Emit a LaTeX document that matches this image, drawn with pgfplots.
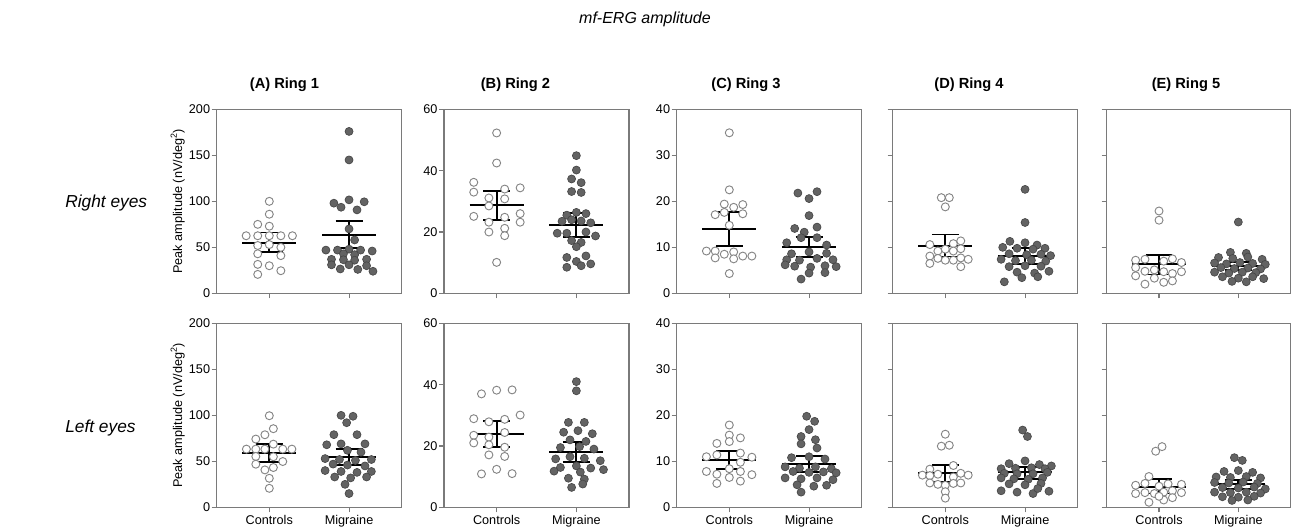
\documentclass[border=0pt]{standalone}
\usepackage{fontspec}
\setmainfont{Liberation Sans}
\usepackage{pgfplots}
\pgfplotsset{compat=1.18}
\definecolor{frame}{HTML}{7A7A7A}
\definecolor{ctrl}{HTML}{858585}
\definecolor{migf}{HTML}{636363}
\definecolor{migd}{HTML}{474747}
\pgfplotsset{
 panel/.style={
  scale only axis, width=138.75pt, height=138pt,
  xmin=-0.66, xmax=1.66, ymin=0,
  xtick={0,1},
  tick align=outside, xtick pos=bottom, ytick pos=left,
  major tick length=3.75pt,
  axis line style={frame, line width=0.8pt},
  every tick/.style={frame, line width=0.8pt},
  tick label style={font=\fontsize{9.5}{11}\selectfont},
  yticklabel style={inner sep=1pt},
  xticklabel style={inner sep=2pt},
  /pgf/number format/assume math mode=true,
  clip=false,
 },
 toprow/.style={xticklabels={}},
 botrow/.style={xticklabels={Controls,Migraine}},
 ylab/.style={ylabel={Peak amplitude (nV/deg\textsuperscript{2})}, ylabel style={font=\fontsize{9.5}{11}\selectfont, inner sep=2pt}},
 ctrlmark/.style={only marks, mark=*, mark size=3pt, mark options={draw=ctrl, fill=white, line width=0.7pt}},
 migmark/.style={only marks, mark=*, mark size=3pt, mark options={draw=migd, fill=migf, line width=0.5pt}},
 mline/.style={black, line width=1.4pt, forget plot},
}
\newcommand{\mciC}[3]{%
 \addplot[mline] coordinates {(-0.338,#1) (0.338,#1)};
 \addplot[mline] coordinates {(-0.169,#2) (0.169,#2)};
 \addplot[mline] coordinates {(-0.169,#3) (0.169,#3)};
 \addplot[mline] coordinates {(0,#2) (0,#3)};}
\newcommand{\mciM}[3]{%
 \addplot[mline] coordinates {(0.662,#1) (1.338,#1)};
 \addplot[mline] coordinates {(0.831,#2) (1.169,#2)};
 \addplot[mline] coordinates {(0.831,#3) (1.169,#3)};
 \addplot[mline] coordinates {(1,#2) (1,#3)};}
\begin{document}
\begin{tikzpicture}
\useasboundingbox (0,0) rectangle (968.25pt,-396.75pt);
\node[font=\fontsize{12}{14}\selectfont\itshape] at (483.75pt,-14.25pt) {mf-ERG amplitude};
\node[font=\fontsize{11}{13}\selectfont\bfseries] at (213.4pt,-63.75pt) {(A) Ring 1};
\node[font=\fontsize{11}{13}\selectfont\bfseries] at (386.6pt,-63.75pt) {(B) Ring 2};
\node[font=\fontsize{11}{13}\selectfont\bfseries] at (559.5pt,-63.75pt) {(C) Ring 3};
\node[font=\fontsize{11}{13}\selectfont\bfseries] at (726.75pt,-63.75pt) {(D) Ring 4};
\node[font=\fontsize{11}{13}\selectfont\bfseries] at (889.5pt,-63.75pt) {(E) Ring 5};
\node[font=\fontsize{13}{15}\selectfont\itshape, anchor=west, inner sep=0pt] at (48.75pt,-152.25pt) {Right eyes};
\node[font=\fontsize{13}{15}\selectfont\itshape, anchor=west, inner sep=0pt] at (48.75pt,-321pt) {Left eyes};

% ---------------- TOP ROW ----------------
\begin{axis}[panel, toprow, ylab, at={(162.5pt,-220pt)}, ymax=200, ytick={0,50,100,150,200}]
\addplot[ctrlmark] table[row sep=\\] {
0 100 \\ 0 86 \\ -0.145 75 \\ 0 73 \\ -0.29 62.6 \\ -0.145 62.6 \\ 0 62.6 \\ 0.145 62.6 \\ 0.29 62.6 \\ -0.145 52 \\ 0 53 \\ 0.145 50 \\ -0.145 43 \\ 0.145 41 \\ -0.145 31.5 \\ 0 30 \\ 0.145 24.6 \\ -0.145 20.6 \\
};
\addplot[migmark] table[row sep=\\, x expr=\thisrowno{0}+1, y index=1] {
0 176 \\ 0 145 \\ -0.19 98 \\ 0 101.6 \\ 0.19 99.5 \\ -0.1 93.6 \\ 0.1 90.7 \\ 0 70 \\ 0.07 58 \\ -0.29 47 \\ -0.145 47 \\ 0 48 \\ 0.145 47 \\ 0.29 46 \\ -0.07 43 \\ 0.07 42 \\ -0.22 37 \\ -0.07 36.5 \\ 0.07 36 \\ 0.22 37 \\ -0.22 31 \\ 0 31 \\ 0.22 30 \\ -0.11 26.5 \\ 0.11 26 \\ 0.3 24 \\
};
\mciC{55}{45.2}{66.2}
\mciM{63.5}{49.4}{78.8}
\end{axis}

\begin{axis}[panel, toprow, at={(333pt,-220pt)}, ymax=60, ytick={0,20,40,60}]
\addplot[ctrlmark] table[row sep=\\] {
0 52.3 \\ 0 42.5 \\ -0.287 36.2 \\ -0.287 33 \\ -0.097 31.1 \\ 0.101 34 \\ 0.295 34.4 \\ 0.101 30.8 \\ -0.097 28.5 \\ -0.287 25.1 \\ 0.101 24.8 \\ -0.097 23.2 \\ 0.295 26 \\ 0.295 23.2 \\ 0.101 21.2 \\ -0.097 20 \\ 0.101 18.8 \\ 0 10.1 \\
};
\addplot[migmark] table[row sep=\\, x expr=\thisrowno{0}+1, y index=1] {
0 44.9 \\ 0 40.2 \\ -0.06 37.3 \\ 0.06 36.1 \\ -0.06 33.2 \\ 0.06 32.9 \\ -0.12 25.5 \\ 0 26.4 \\ 0.12 26 \\ -0.18 23.5 \\ -0.06 24 \\ 0.06 23.6 \\ 0.18 23 \\ -0.24 19.6 \\ -0.12 19.6 \\ 0.12 20 \\ 0.24 18.7 \\ -0.06 17.2 \\ 0.06 16.6 \\ 0 15.2 \\ -0.12 11.7 \\ 0.12 12.2 \\ 0 10.4 \\ -0.12 8.5 \\ 0.18 9.6 \\ 0.06 9 \\
};
\mciC{28.75}{23.8}{33.3}
\mciM{22.3}{18.5}{26.1}
\end{axis}

\begin{axis}[panel, toprow, at={(507.5pt,-220pt)}, ymax=40, ytick={0,10,20,30,40}]
\addplot[ctrlmark] table[row sep=\\] {
0 34.9 \\ 0 22.5 \\ -0.063 19.4 \\ 0.055 18.7 \\ 0.169 19.3 \\ -0.177 17.1 \\ -0.063 17.6 \\ 0.169 17.3 \\ 0 14.8 \\ -0.287 9.2 \\ -0.177 9.2 \\ -0.063 8.5 \\ 0.055 9.0 \\ -0.177 7.7 \\ 0.055 7.5 \\ 0.169 8.1 \\ 0.283 8.1 \\ 0 4.3 \\
};
\addplot[migmark] table[row sep=\\, x expr=\thisrowno{0}+1, y index=1] {
-0.14 21.8 \\ 0.1 22.1 \\ 0 20.6 \\ 0 16.9 \\ -0.18 14.1 \\ 0.1 14.4 \\ -0.06 13.3 \\ -0.1 12.1 \\ 0.1 12.1 \\ -0.28 11 \\ 0.22 10.5 \\ -0.22 8.6 \\ 0 9 \\ 0.22 8.7 \\ -0.28 7.3 \\ -0.12 7.2 \\ 0.1 7.6 \\ 0.3 7.3 \\ -0.18 5.9 \\ 0.02 5.7 \\ 0.2 6.0 \\ 0.34 5.8 \\ 0 4.4 \\ 0.2 4.5 \\ -0.1 3.1 \\ -0.3 6.2 \\
};
\mciC{14.0}{10.3}{17.7}
\mciM{10.05}{7.9}{12.2}
\end{axis}

\begin{axis}[panel, toprow, at={(669.5pt,-220pt)}, ymax=40, ytick={0,10,20,30,40}, yticklabels={}]
\addplot[ctrlmark] table[row sep=\\] {
-0.05 20.8 \\ 0.05 20.8 \\ 0 18.8 \\ -0.194 10.6 \\ 0.101 10.8 \\ 0.194 11.4 \\ -0.093 9.2 \\ 0.0 9.6 \\ 0.101 9.2 \\ 0.194 9.7 \\ -0.194 8.1 \\ -0.093 7.6 \\ 0.0 7.2 \\ 0.101 7.2 \\ 0.194 7.7 \\ 0.287 7.4 \\ -0.194 6.5 \\ 0.194 5.8 \\
};
\addplot[migmark] table[row sep=\\, x expr=\thisrowno{0}+1, y index=1] {
0 22.6 \\ 0 15.4 \\ -0.19 11.3 \\ 0 11 \\ 0.15 10.5 \\ -0.28 10.0 \\ -0.1 9.8 \\ 0.1 9.6 \\ 0.25 9.8 \\ -0.2 8.6 \\ 0.02 8.4 \\ 0.2 8.5 \\ 0.32 8.2 \\ -0.3 7.4 \\ -0.12 7.1 \\ 0.08 7.2 \\ 0.26 7.0 \\ -0.2 5.8 \\ 0 6.0 \\ 0.2 5.9 \\ -0.1 4.6 \\ 0.12 4.4 \\ 0.3 4.8 \\ -0.04 3.4 \\ 0.16 3.6 \\ -0.26 2.5 \\
};
\mciC{10.3}{8.0}{12.8}
\mciM{8.1}{6.4}{9.8}
\end{axis}

\begin{axis}[panel, toprow, at={(830pt,-220pt)}, ymax=40, ytick={0,10,20,30,40}, yticklabels={}, width=138pt]
\addplot[ctrlmark] table[row sep=\\] {
0 17.9 \\ 0 15.9 \\ -0.295 7.2 \\ -0.177 7.4 \\ 0.059 7.0 \\ 0.169 7.5 \\ 0.283 6.7 \\ -0.295 5.6 \\ -0.177 4.8 \\ -0.059 5.1 \\ 0.059 4.7 \\ 0.169 4.3 \\ 0.283 4.7 \\ -0.295 3.8 \\ -0.059 3.3 \\ -0.177 2.0 \\ 0.059 2.4 \\ 0.169 2.7 \\
};
\addplot[migmark] table[row sep=\\, x expr=\thisrowno{0}+1, y index=1] {
0 15.5 \\ -0.1 8.9 \\ 0.1 8.7 \\ -0.25 7.8 \\ -0.07 7.6 \\ 0.12 7.9 \\ 0.3 7.4 \\ -0.3 6.6 \\ -0.15 6.4 \\ 0.02 6.7 \\ 0.18 6.5 \\ 0.34 6.3 \\ -0.22 5.6 \\ -0.05 5.4 \\ 0.12 5.5 \\ 0.28 5.3 \\ -0.3 4.6 \\ -0.12 4.4 \\ 0.05 4.6 \\ 0.22 4.5 \\ -0.2 3.6 \\ 0 3.3 \\ 0.18 3.6 \\ -0.08 2.6 \\ 0.1 2.5 \\ 0.32 3.2 \\
};
\mciC{6.3}{4.1}{8.4}
\mciM{5.9}{5.0}{6.8}
\end{axis}

% ---------------- BOTTOM ROW ----------------
\begin{axis}[panel, botrow, ylab, at={(162.5pt,-380.5pt)}, ymax=200, ytick={0,50,100,150,200}]
\addplot[ctrlmark] table[row sep=\\] {
0 99.6 \\ 0.051 85.5 \\ -0.055 78.9 \\ -0.169 74.2 \\ 0.051 68.7 \\ -0.287 63.3 \\ -0.169 63.3 \\ -0.055 63.3 \\ 0.169 63.3 \\ 0.283 63.3 \\ -0.169 55.3 \\ 0.051 55 \\ 0.169 49.8 \\ -0.169 46.9 \\ 0.051 43.3 \\ -0.055 40.7 \\ 0 31.6 \\ 0 20.7 \\
};
\addplot[migmark] table[row sep=\\, x expr=\thisrowno{0}+1, y index=1] {
-0.1 100 \\ 0.05 99 \\ -0.03 92 \\ -0.19 79 \\ 0.1 79 \\ -0.28 68 \\ -0.1 69 \\ 0.2 69 \\ -0.02 62 \\ 0.15 60 \\ -0.3 53 \\ -0.12 52 \\ 0.08 51 \\ 0.28 52 \\ -0.2 47 \\ -0.02 46 \\ 0.2 45 \\ -0.3 40 \\ -0.1 39 \\ 0.1 38 \\ 0.28 39 \\ -0.18 33 \\ 0.02 32 \\ 0.22 33 \\ -0.05 25 \\ 0 15 \\
};
\mciC{58.9}{49.5}{68.4}
\mciM{54.3}{45.6}{63}
\end{axis}

\begin{axis}[panel, botrow, at={(333pt,-380.5pt)}, ymax=60, ytick={0,20,40,60}]
\addplot[ctrlmark] table[row sep=\\] {
-0.19 37 \\ 0 38.2 \\ 0.194 38.3 \\ -0.287 28.9 \\ -0.097 27.9 \\ 0.101 28.7 \\ 0.295 30.1 \\ -0.287 23.5 \\ -0.097 22.9 \\ 0.101 24.4 \\ -0.287 21 \\ -0.097 20.4 \\ 0.101 19.6 \\ -0.097 17.1 \\ 0.101 16.6 \\ 0 12.4 \\ -0.19 10.9 \\ 0.194 11.0 \\
};
\addplot[migmark] table[row sep=\\, x expr=\thisrowno{0}+1, y index=1] {
0 41 \\ 0 38 \\ -0.1 27.7 \\ 0.1 27.7 \\ -0.16 24.5 \\ 0.02 25 \\ 0.2 24 \\ -0.08 22 \\ 0.12 21.5 \\ -0.2 19.5 \\ 0.04 19.8 \\ 0.22 19 \\ -0.26 15.8 \\ -0.08 16.5 \\ 0.1 16 \\ 0.3 15.2 \\ -0.2 13 \\ 0 13.5 \\ 0.18 12.8 \\ 0.34 12.3 \\ -0.28 11.8 \\ 0.05 11.5 \\ -0.1 9.5 \\ 0.1 9.2 \\ 0.08 7.6 \\ -0.06 6.5 \\
};
\mciC{23.9}{19.7}{28.2}
\mciM{18.0}{14.8}{21.4}
\end{axis}

\begin{axis}[panel, botrow, at={(507.5pt,-380.5pt)}, ymax=40, ytick={0,10,20,30,40}]
\addplot[ctrlmark] table[row sep=\\] {
0 17.9 \\ 0 15.7 \\ 0.139 15.1 \\ 0 14.3 \\ -0.156 13.9 \\ -0.287 11.0 \\ -0.156 11.4 \\ 0.139 11.8 \\ 0.283 10.9 \\ 0.139 9.8 \\ -0.287 7.8 \\ -0.156 7.2 \\ 0 8.4 \\ 0.139 7.8 \\ 0.283 7.1 \\ -0.156 5.2 \\ 0 6.5 \\ 0.139 5.7 \\
};
\addplot[migmark] table[row sep=\\, x expr=\thisrowno{0}+1, y index=1] {
-0.03 19.8 \\ 0.07 18.7 \\ 0 16.9 \\ -0.1 15.4 \\ 0.08 14.7 \\ -0.1 13.8 \\ 0.1 12.9 \\ -0.22 10.8 \\ 0 11 \\ 0.2 10.5 \\ -0.3 8.8 \\ -0.12 8.5 \\ 0.08 8.8 \\ 0.28 8.4 \\ -0.2 7.8 \\ 0 7.6 \\ 0.18 7.7 \\ 0.34 7.5 \\ -0.3 6.4 \\ -0.1 6.2 \\ 0.1 6.4 \\ 0.3 6.0 \\ -0.15 4.9 \\ 0.06 4.6 \\ 0.22 4.8 \\ -0.1 3.3 \\
};
\mciC{10.3}{8.4}{12.2}
\mciM{9.4}{7.75}{11.2}
\end{axis}

\begin{axis}[panel, botrow, at={(669.5pt,-380.5pt)}, ymax=40, ytick={0,10,20,30,40}, yticklabels={}]
\addplot[ctrlmark] table[row sep=\\] {
0 15.9 \\ -0.05 13.3 \\ 0.05 13.5 \\ -0.194 8.3 \\ 0.101 9.1 \\ -0.287 7.0 \\ -0.194 6.9 \\ -0.093 7.2 \\ 0.101 6.6 \\ 0.194 7.4 \\ 0.287 7.0 \\ -0.194 5.3 \\ -0.093 5.0 \\ 0.0 4.8 \\ 0.101 5.2 \\ 0.194 5.3 \\ 0 3.4 \\ 0 2.0 \\
};
\addplot[migmark] table[row sep=\\, x expr=\thisrowno{0}+1, y index=1] {
-0.03 16.8 \\ 0.03 15.4 \\ -0.2 9.5 \\ 0 10.1 \\ 0.18 9.3 \\ 0.33 9.0 \\ -0.3 8.4 \\ -0.12 8.5 \\ 0.08 8.6 \\ 0.25 8.4 \\ -0.26 7.4 \\ -0.1 7.3 \\ 0.1 7.3 \\ 0.28 7.6 \\ -0.3 6.4 \\ -0.14 6.2 \\ 0.04 6.1 \\ 0.22 6.4 \\ -0.2 5.1 \\ 0 4.9 \\ 0.2 5.2 \\ -0.3 3.6 \\ -0.1 3.3 \\ 0.1 3.0 \\ 0.3 3.5 \\ 0.16 4.1 \\
};
\mciC{7.4}{5.6}{9.2}
\mciM{7.6}{6.2}{8.7}
\end{axis}

\begin{axis}[panel, botrow, at={(830pt,-380.5pt)}, ymax=40, ytick={0,10,20,30,40}, yticklabels={}, width=138pt]
\addplot[ctrlmark] table[row sep=\\] {
-0.042 12.2 \\ 0.038 13.2 \\ -0.127 6.7 \\ -0.295 4.8 \\ -0.177 5.2 \\ 0.0 4.6 \\ 0.114 5.1 \\ 0.283 5.0 \\ -0.295 3.0 \\ -0.177 3.2 \\ -0.059 3.0 \\ 0.059 3.3 \\ 0.169 3.6 \\ 0.283 3.2 \\ -0.127 1.1 \\ 0.059 1.6 \\ 0.169 2.1 \\ 0.0 2.4 \\
};
\addplot[migmark] table[row sep=\\, x expr=\thisrowno{0}+1, y index=1] {
-0.05 10.8 \\ 0.05 10.2 \\ -0.18 7.8 \\ 0 8.0 \\ 0.18 7.6 \\ -0.28 6.6 \\ -0.1 6.5 \\ 0.1 6.7 \\ 0.28 6.4 \\ -0.3 5.4 \\ -0.12 5.3 \\ 0.06 5.5 \\ 0.24 5.2 \\ -0.2 4.3 \\ 0 4.2 \\ 0.2 4.4 \\ 0.34 4.0 \\ -0.3 3.3 \\ -0.1 3.2 \\ 0.1 3.3 \\ 0.28 3.1 \\ -0.2 2.3 \\ 0 2.2 \\ 0.2 2.4 \\ -0.08 1.5 \\ 0.12 1.6 \\
};
\mciC{4.5}{3.0}{6.2}
\mciM{5.0}{4.0}{6.0}
\end{axis}
\end{tikzpicture}
\end{document}
